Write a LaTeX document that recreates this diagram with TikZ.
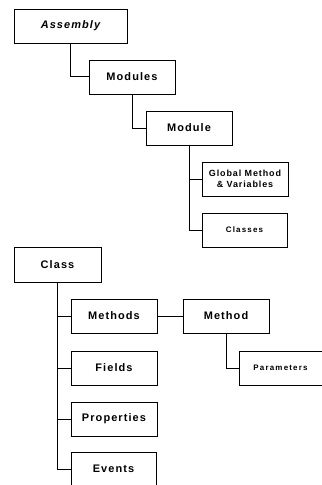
\documentclass[tikz,border=0pt]{standalone}
\usepackage{fontspec}
\setmainfont{Liberation Sans}[LetterSpace=10]
\newfontfamily\widefont{Liberation Sans}[LetterSpace=15]
\begin{document}
\begin{tikzpicture}[x=1bp,y=-1bp,
  box/.style={draw, line width=0.9pt, inner sep=0pt, align=center,
    minimum width=86bp, minimum height=34bp,
    font=\bfseries\fontsize{11}{12}\selectfont},
  midtext/.style={font=\bfseries\fontsize{9}{11}\selectfont},
  smalltext/.style={font=\widefont\bfseries\fontsize{8}{9}\selectfont},
  link/.style={line width=1pt}]
\useasboundingbox (0,0) rectangle (321,485);
\node[box, minimum width=113bp, font=\bfseries\itshape\fontsize{11}{12}\selectfont] (asm) at (70.5,26) {Assembly};
\node[box] (modules) at (132,77) {Modules};
\node[box] (module) at (189,128) {Module};
\node[box, midtext] (glob) at (245,179) {Global Method\\\& Variables};
\node[box, smalltext, minimum width=85bp] (classes) at (244.5,230) {Classes};
\node[box, minimum width=87bp, minimum height=35bp] (class) at (57.5,264.5) {Class};
\node[box] (methods) at (114,316) {Methods};
\node[box] (method) at (226,316) {Method};
\node[box, smalltext, minimum width=83bp] (params) at (280.5,368) {Parameters};
\node[box] (fields) at (114,368) {Fields};
\node[box] (props) at (114,419) {Properties};
\node[box, minimum width=85bp] (events) at (113.5,469) {Events};
\draw[link] (asm.south) |- (modules.west);
\draw[link] (modules.south) |- (module.west);
\draw[link] (module.south) |- (glob.west);
\draw[link] (module.south) |- (classes.west);
\draw[link] (class.south) |- (methods.west);
\draw[link] (class.south) |- (fields.west);
\draw[link] (class.south) |- (props.west);
\draw[link] (class.south) |- (events.west);
\draw[link] (methods) -- (method);
\draw[link] (method.south) |- (params.west);
\end{tikzpicture}
\end{document}
